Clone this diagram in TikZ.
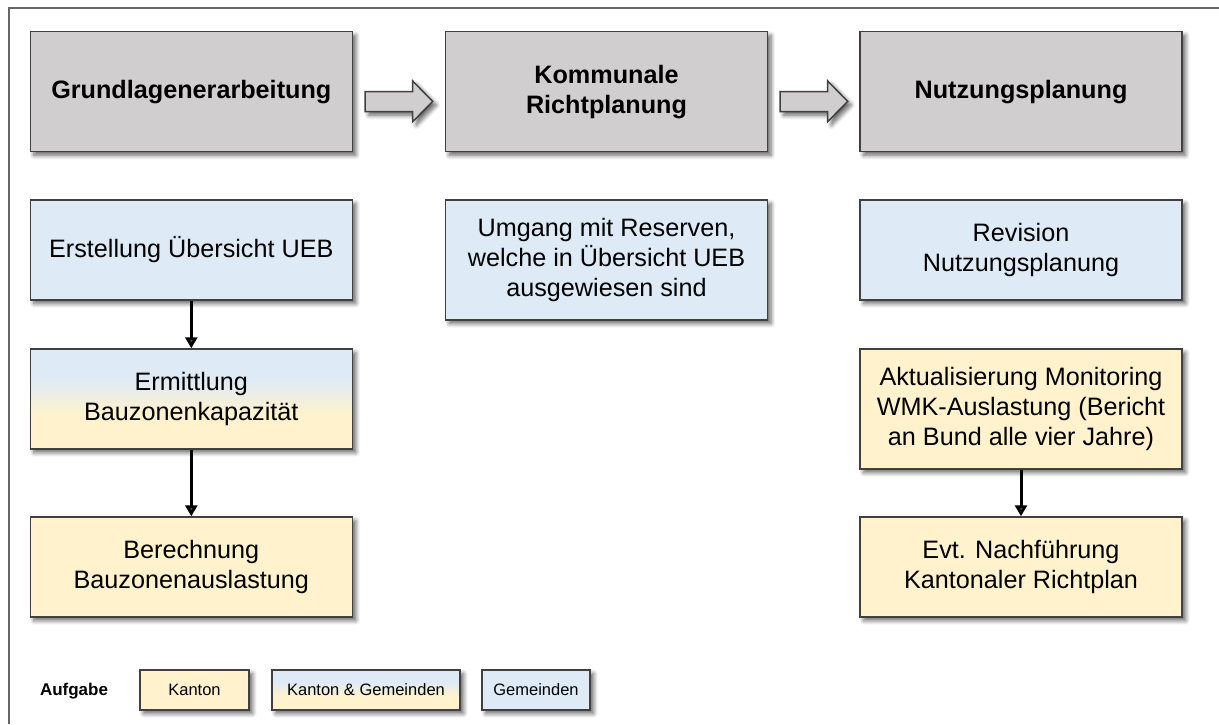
\documentclass[tikz,border=0pt]{standalone}
\usepackage{fontspec}
\setmainfont{Liberation Sans}
\usetikzlibrary{arrows.meta,shadows.blur}
\definecolor{boxgray}{RGB}{208,206,206}
\definecolor{kblue}{RGB}{222,235,247}
\definecolor{kyellow}{RGB}{255,242,204}
\definecolor{rim}{RGB}{64,64,64}
\pgfdeclareverticalshading{mixed}{100bp}{color(0bp)=(kyellow); color(25bp)=(kyellow); color(42bp)=(kyellow); color(60bp)=(kblue); color(75bp)=(kblue); color(100bp)=(kblue)}
\begin{document}
\begin{tikzpicture}[x=0.5pt, y=-0.5pt,
    box/.style={draw=rim, line width=0.75pt, align=center, inner sep=0pt,
        minimum width=161pt, minimum height=50pt,
        font=\fontsize{12.6}{15}\selectfont,
        blur shadow={shadow xshift=1.8pt, shadow yshift=-1.8pt, shadow blur steps=6, shadow opacity=60}},
    phase/.style={box, fill=boxgray, minimum height=60pt, font=\bfseries\fontsize{12.6}{15}\selectfont},
    gemeinde/.style={box, fill=kblue},
    kanton/.style={box, fill=kyellow},
    beide/.style={box, shade, shading=mixed},
    legend/.style={minimum height=20pt, minimum width=54pt, font=\fontsize{8.25}{10}\selectfont},
    flow/.style={line width=1.5pt, -{Triangle[length=5.5pt, width=6pt]}},
    hollow/.style={draw=rim, fill=boxgray, line width=0.75pt,
        blur shadow={shadow xshift=1.8pt, shadow yshift=-1.8pt, shadow blur steps=6, shadow opacity=60}}]
    \useasboundingbox (0,0) rectangle (1219,724);
    \draw [rim!80, line width=0.75pt] (9,724) -- (9,8) -- (1219,8);

    \node [phase] (grund) at (191.3,91.7) {Grundlagenerarbeitung};
    \node [phase] (komm) at (606.5,91.7) {Kommunale\\Richtplanung};
    \node [phase] (nutz) at (1021,91.7) {Nutzungsplanung};
    \foreach \ax in {365,780}
        \draw [hollow, shift={(\ax,0)}] (0,91.7) -- (47.7,91.7) -- (47.7,81) -- (67.7,101.4)
            -- (47.7,121.7) -- (47.7,111.7) -- (0,111.7) -- cycle;

    \node [gemeinde] (uebersicht) at (191.3,250) {Erstellung Übersicht UEB};
    \node [gemeinde, minimum height=60pt] (reserven) at (606.5,260)
        {Umgang mit Reserven,\\welche in Übersicht UEB\\ausgewiesen sind};
    \node [gemeinde] (revision) at (1021,250) {Revision\\Nutzungsplanung};
    \node [beide] (kapazitaet) at (191.3,399) {Ermittlung\\Bauzonenkapazität};
    \node [kanton] (auslastung) at (191.3,567) {Berechnung\\Bauzonenauslastung};
    \node [kanton, minimum height=60pt] (monitoring) at (1021,409)
        {Aktualisierung Monitoring\\WMK-Auslastung (Bericht\\an Bund alle vier Jahre)};
    \node [kanton] (richtplan) at (1021,567) {Evt. Nachführung\\Kantonaler Richtplan};

    \draw [flow] (uebersicht) -- (kapazitaet);
    \draw [flow] (kapazitaet) -- (auslastung);
    \draw [flow] (monitoring) -- (richtplan);

    \node [font=\bfseries\fontsize{8.5}{10}\selectfont] (aufgabe) at (74,691) {Aufgabe};
    \node [kanton, legend, minimum width=54.5pt] (lkanton) at (194.5,690) {Kanton};
    \node [beide, legend, minimum width=94pt] (lbeide) at (366,690) {Kanton \& Gemeinden};
    \node [gemeinde, legend] (lgemeinde) at (536,690) {Gemeinden};
\end{tikzpicture}
\end{document}
